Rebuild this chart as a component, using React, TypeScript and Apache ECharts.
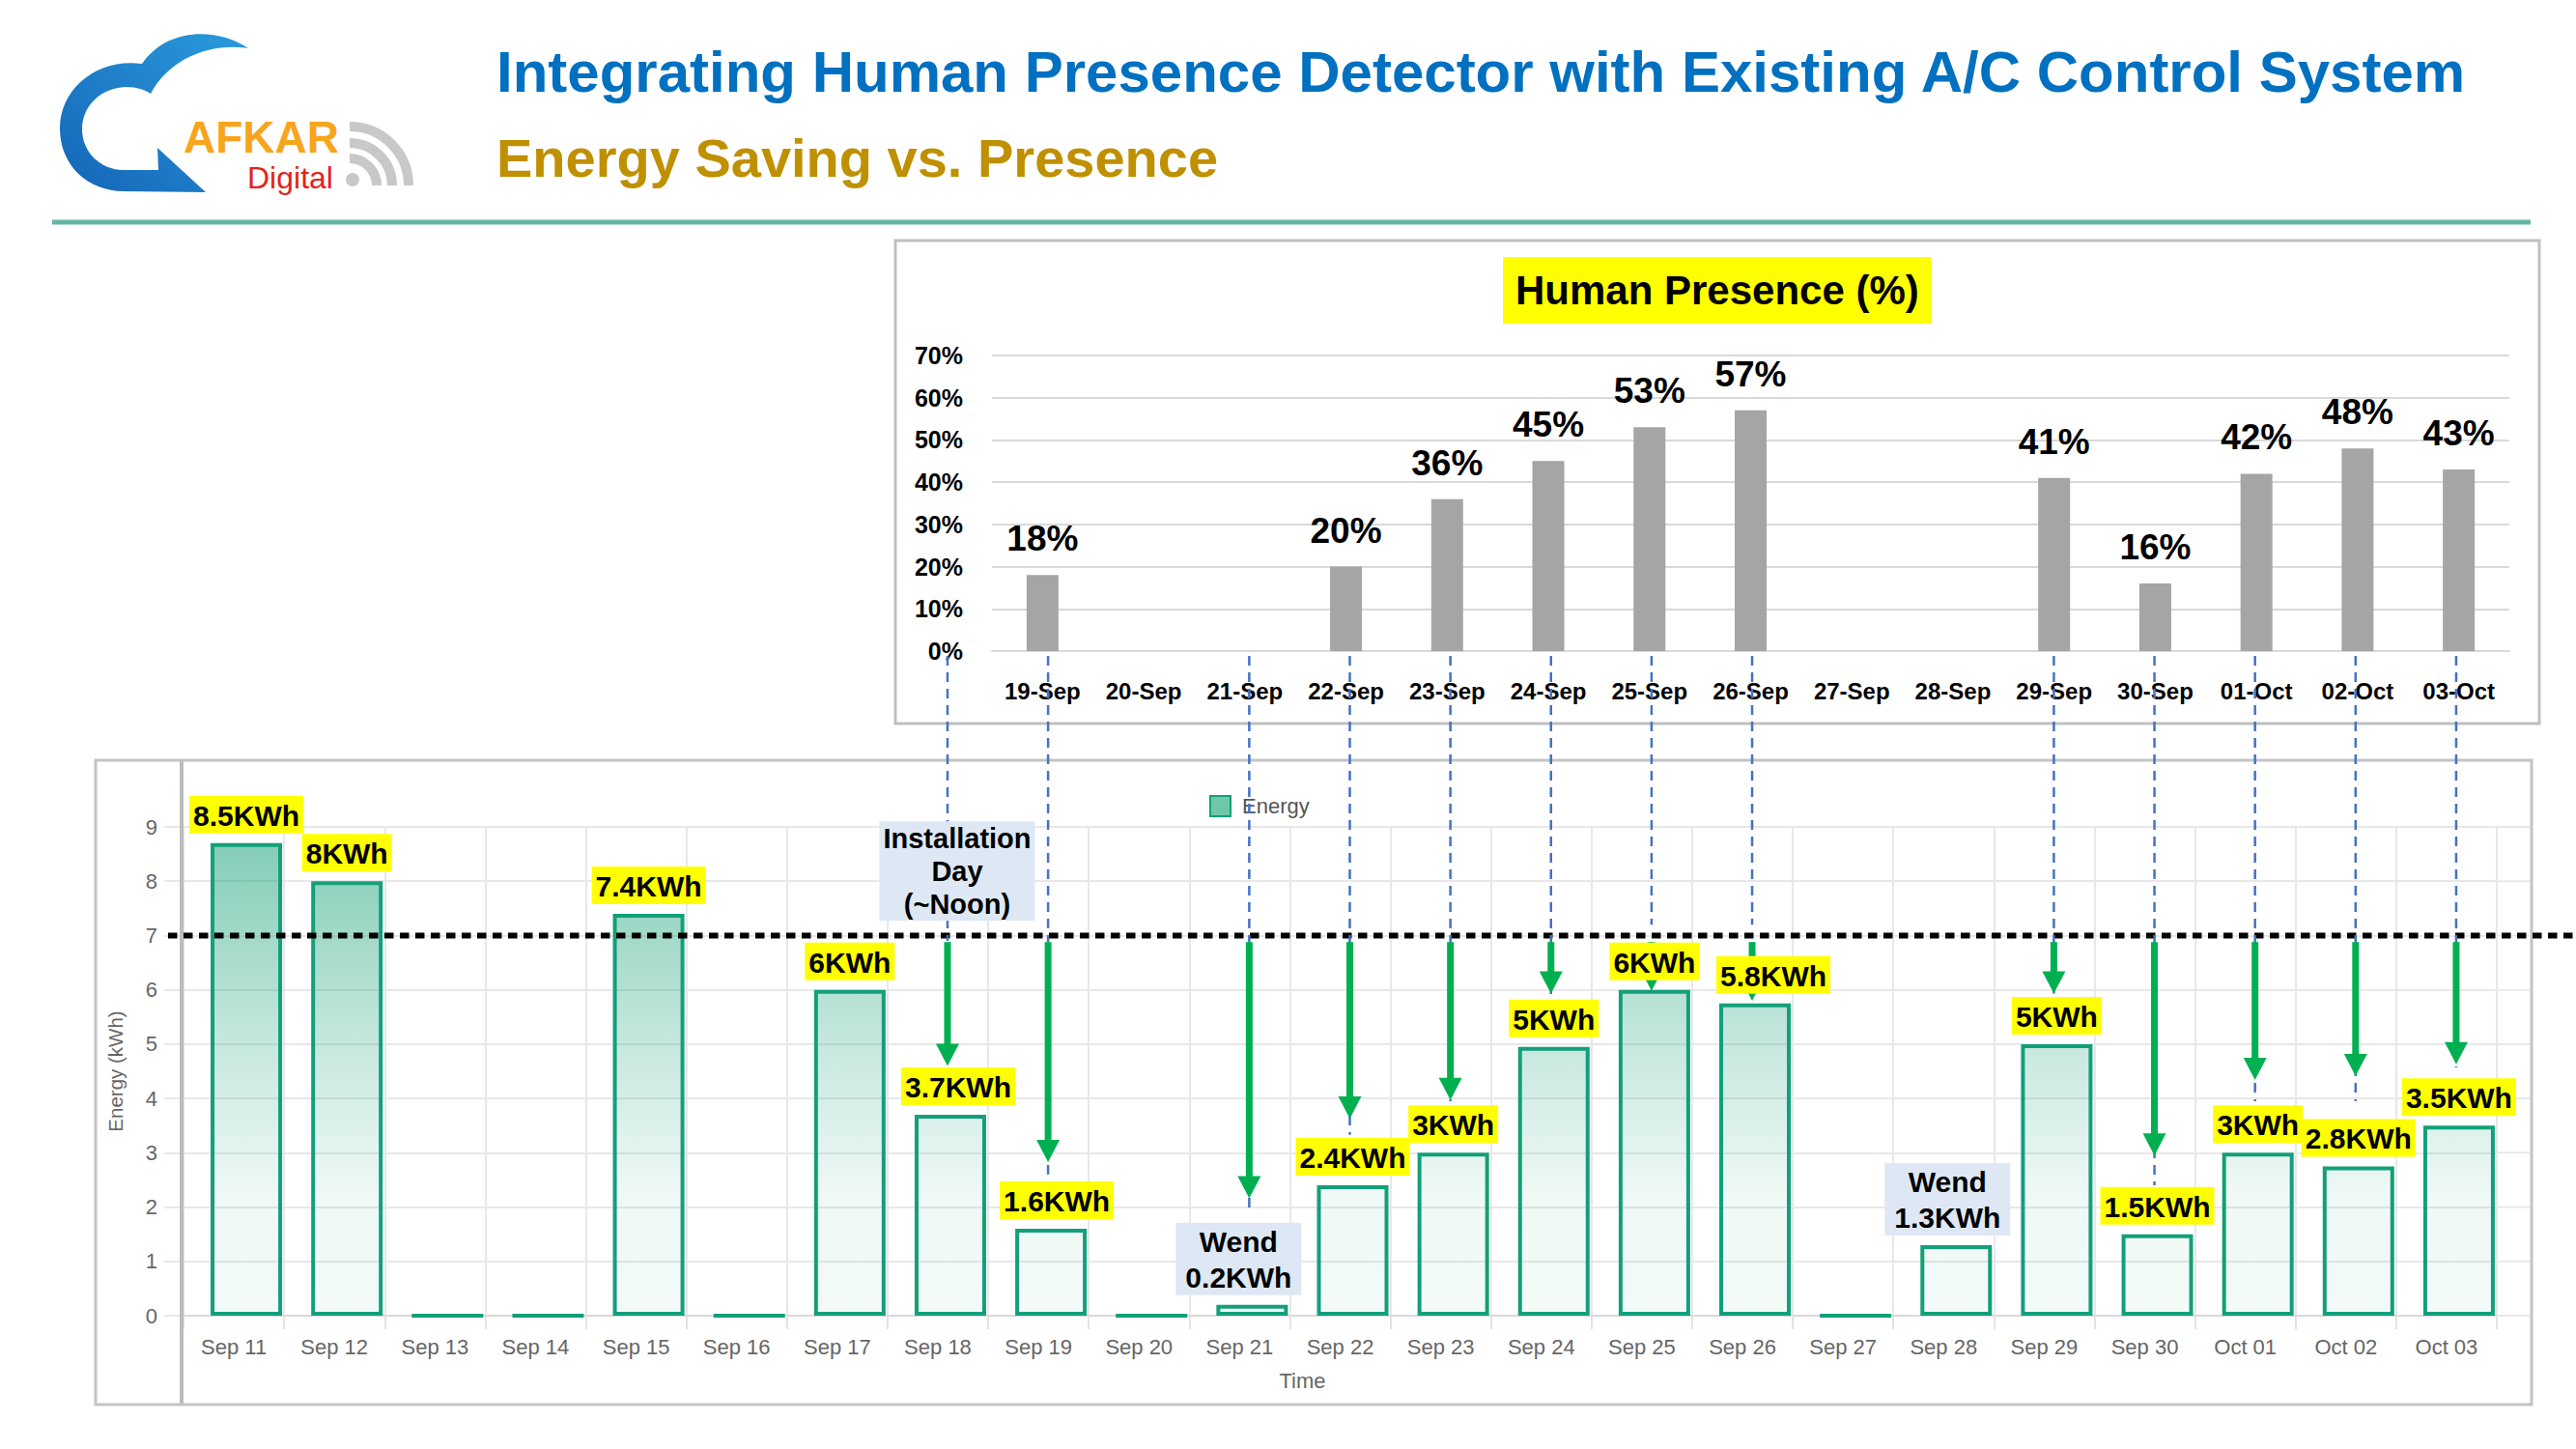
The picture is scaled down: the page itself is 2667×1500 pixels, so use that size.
import React, { useEffect, useRef } from "react";
import * as echarts from "echarts";

const FONT = "'Liberation Sans', Arial, sans-serif";

// ---------- data ----------
const presenceDates = ["19-Sep", "20-Sep", "21-Sep", "22-Sep", "23-Sep", "24-Sep", "25-Sep", "26-Sep", "27-Sep", "28-Sep", "29-Sep", "30-Sep", "01-Oct", "02-Oct", "03-Oct"];
const presenceValues = [18, null, null, 20, 36, 45, 53, 57, null, null, 41, 16, 42, 48, 43];

const energyDates = ["Sep 11", "Sep 12", "Sep 13", "Sep 14", "Sep 15", "Sep 16", "Sep 17", "Sep 18", "Sep 19", "Sep 20", "Sep 21", "Sep 22", "Sep 23", "Sep 24", "Sep 25", "Sep 26", "Sep 27", "Sep 28", "Sep 29", "Sep 30", "Oct 01", "Oct 02", "Oct 03"];
const energyValues = [8.7, 8.0, 0, 0, 7.4, 0, 6.0, 3.7, 1.6, 0, 0.2, 2.4, 3.0, 4.95, 6.0, 5.75, 0, 1.3, 5.0, 1.5, 3.0, 2.75, 3.5];
const energyLabels = ["8.5KWh", "8KWh", "", "", "7.4KWh", "", "6KWh", "3.7KWh", "1.6KWh", "", "Wend\n0.2KWh", "2.4KWh", "3KWh", "5KWh", "6KWh", "5.8KWh", "", "Wend\n1.3KWh", "5KWh", "1.5KWh", "3KWh", "2.8KWh", "3.5KWh"];
const weekendDays = ["Sep 21", "Sep 28"];

const baselineKWh = 7;
const connectorDays = ["Sep 18", "Sep 19", "Sep 21", "Sep 22", "Sep 23", "Sep 24", "Sep 25", "Sep 26", "Sep 29", "Sep 30", "Oct 01", "Oct 02", "Oct 03"];
const arrowStartKWh = 6.88;
const arrowTipKWh = [4.6, 2.83, 2.16, 3.63, 3.97, 5.93, 5.98, 5.8, 5.93, 2.95, 4.34, 4.41, 4.63];
const dashEndKWh = [6.9, 2.6, 1.95, 3.33, 3.95, 5.9, 7.2, 7.2, 5.93, 2.4, 3.95, 3.95, 4.57];

const titleText = "Integrating Human Presence Detector with Existing A/C Control System";
const subtitleText = "Energy Saving vs. Presence";
const presenceTitle = "Human Presence (%)";
const installText = "Installation\nDay\n(~Noon)";
const installDay = "Sep 18";
const installBottomKWh = 7.27;

// ---------- layout / style ----------
const TOP_GRID = { left: 1027, top: 368, width: 1571, height: 306 };
const BOT_GRID = { left: 190, top: 856, width: 2395, height: 506 };
const BAR_SHIFT = 13;
const LABEL_SHIFT: Record<string, number> = { "Sep 18": 8, "Sep 19": 6, "Sep 21": -14, "Sep 26": 19, "Sep 28": -9 };

const LOGO_D =
  "M 257 50 C 228 30 175 26 147 66 C 100 60 62 92 62 133 C 62 172 92 198 128 198 L 213 199 L 163 153 L 164 176 L 128 176 C 104 176 85 157 85 134 C 85 110 104 91 130 90 C 142 90 150 93 156 97 C 175 62 215 44 257 50 Z";

let logoRegistered = false;
function registerLogo() {
  if (logoRegistered) return;
  echarts.graphic.registerShape("logo", echarts.graphic.extendPath(LOGO_D, {}));
  logoRegistered = true;
}

export default function App() {
  const ref = useRef<HTMLDivElement>(null);

  useEffect(() => {
    if (!ref.current) return;
    registerLogo();
    const chart = echarts.init(ref.current, undefined, { renderer: "svg", width: 2667, height: 1500 });

    const gTop = BOT_GRID.top;
    const gBot = BOT_GRID.top + BOT_GRID.height;
    const energyGradient = new echarts.graphic.LinearGradient(
      0, gTop, 0, gBot,
      [
        { offset: 0, color: "rgba(22,160,120,0.55)" },
        { offset: 0.45, color: "rgba(22,160,120,0.24)" },
        { offset: 0.75, color: "rgba(22,160,120,0.07)" },
        { offset: 1, color: "rgba(22,160,120,0.05)" },
      ],
      true
    );

    const labelData = energyValues.map((v, i) => {
      const text = energyLabels[i];
      const day = energyDates[i];
      const isWeekend = weekendDays.includes(day);
      if (!text) return { value: v, label: { show: false } };
      const shift = LABEL_SHIFT[day] || 0;
      return {
        value: v,
        label: isWeekend
          ? { show: true, formatter: text, backgroundColor: "#DEE8F4", padding: [1, 10, 0, 10], lineHeight: 37, offset: [shift, 0] }
          : { show: true, formatter: text, offset: [shift, 0] },
      };
    });

    const botAxisLabel = { color: "#666", fontSize: 22, fontFamily: FONT };

    const option: any = {
      animation: false,
      backgroundColor: "#ffffff",
      textStyle: { fontFamily: FONT },
      title: [
        {
          text: presenceTitle,
          left: 1556,
          top: 266,
          backgroundColor: "#FFFF00",
          padding: [10, 13, 10, 13],
          textStyle: { fontSize: 42, fontWeight: "bold", color: "#000", fontFamily: FONT, lineHeight: 49 },
        },
      ],
      legend: {
        data: [{ name: "Energy", icon: "rect", itemStyle: { color: "#6FC7A9", borderColor: "#13A078", borderWidth: 2 } }],
        left: 1247,
        top: 818,
        itemWidth: 21,
        itemHeight: 21,
        selectedMode: false,
        textStyle: { color: "#555", fontSize: 22, fontFamily: FONT, padding: [0, 0, 0, 7] },
      },
      grid: [
        { ...TOP_GRID },
        { ...BOT_GRID },
        { ...BOT_GRID, left: BOT_GRID.left + BAR_SHIFT },
      ],
      xAxis: [
        {
          type: "category",
          gridIndex: 0,
          data: presenceDates,
          axisLine: { lineStyle: { color: "#D9D9D9", width: 2 } },
          axisTick: { show: false },
          axisLabel: { interval: 0, fontSize: 24, fontWeight: "bold", color: "#000", margin: 29, fontFamily: FONT },
        },
        {
          type: "category",
          gridIndex: 1,
          data: energyDates,
          boundaryGap: true,
          axisLine: { lineStyle: { color: "#D9D9D9", width: 2 } },
          axisTick: { show: true, interval: 0, length: 14, lineStyle: { color: "#E3E3E3", width: 2 } },
          axisLabel: { ...botAxisLabel, interval: 0, margin: 21 },
          splitLine: { show: true, interval: 0, lineStyle: { color: "#E8E8E8", width: 2 } },
          name: "Time",
          nameLocation: "middle",
          nameGap: 56,
          nameTextStyle: { color: "#666", fontSize: 22, fontFamily: FONT, padding: [0, 78, 0, 0] },
        },
        { type: "category", gridIndex: 2, data: energyDates, show: false },
      ],
      yAxis: [
        {
          type: "value",
          gridIndex: 0,
          min: 0,
          max: 70,
          interval: 10,
          axisLine: { show: false },
          axisTick: { show: false },
          axisLabel: { formatter: "{value}%", fontSize: 25, fontWeight: "bold", color: "#000", margin: 30, fontFamily: FONT },
          splitLine: { lineStyle: { color: "#D9D9D9", width: 2 } },
        },
        {
          type: "value",
          gridIndex: 1,
          min: 0,
          max: 9,
          interval: 1,
          axisLine: { show: true, lineStyle: { color: "#E3E3E3", width: 2 } },
          axisTick: { show: true, length: 20, lineStyle: { color: "#E8E8E8", width: 2 } },
          axisLabel: { ...botAxisLabel, margin: 27 },
          splitLine: { lineStyle: { color: "#E8E8E8", width: 2 } },
          name: "Energy (kWh)",
          nameLocation: "middle",
          nameGap: 60,
          nameRotate: 90,
          nameTextStyle: { color: "#666", fontSize: 20.5, fontFamily: FONT },
        },
        { type: "value", gridIndex: 2, min: 0, max: 9, interval: 1, show: false },
      ],
      series: [
        {
          type: "bar",
          name: "Presence",
          xAxisIndex: 0,
          yAxisIndex: 0,
          data: presenceValues,
          barWidth: 33,
          itemStyle: { color: "#A5A5A5" },
          label: { show: true, position: "top", distance: 19, formatter: "{c}%", fontSize: 37, fontWeight: "bold", color: "#000", fontFamily: FONT },
        },
        {
          type: "bar",
          name: "Energy",
          xAxisIndex: 2,
          yAxisIndex: 2,
          data: energyValues,
          barWidth: 74,
          barGap: "-100%",
          z: 2,
          itemStyle: { color: energyGradient, borderColor: "#12A079", borderWidth: 4 },
        },
        {
          type: "bar",
          name: "EnergyLabels",
          xAxisIndex: 2,
          yAxisIndex: 2,
          data: labelData,
          barWidth: 74,
          barGap: "-100%",
          z: 20,
          silent: true,
          itemStyle: { color: "rgba(0,0,0,0)", borderWidth: 0 },
          label: {
            show: true,
            position: "top",
            distance: 10,
            fontSize: 30,
            fontWeight: "bold",
            color: "#000",
            fontFamily: FONT,
            backgroundColor: "#FFFF00",
            padding: [4, 4, 2, 4],
            lineHeight: 33,
          },
        },
      ],
    };

    chart.setOption(option);

    const toPx = (day: string, v: number) =>
      chart.convertToPixel({ gridIndex: 2 } as any, [energyDates.indexOf(day), v]) as number[];
    const yOf = (v: number) => toPx(energyDates[0], v)[1];

    const els: any[] = [];

    // header divider
    els.push({ type: "line", z: 1, shape: { x1: 54, y1: 230, x2: 2620, y2: 230 }, style: { stroke: "#63B6A6", lineWidth: 5 } });

    // logo
    els.push({
      type: "logo",
      x: 0,
      y: 0,
      scaleX: 1,
      scaleY: 1,
      z: 1,
      style: {
        fill: new echarts.graphic.LinearGradient(0, 1, 1, 0, [
          { offset: 0, color: "#1565B8" },
          { offset: 1, color: "#2A9BDC" },
        ]),
      },
    });
    els.push({ type: "text", z: 1, x: 190, y: 142, style: { text: "AFKAR", fill: "#F7A51C", fontSize: 46, fontWeight: "bold", fontFamily: FONT, align: "left", verticalAlign: "middle" } });
    els.push({ type: "text", z: 1, x: 256, y: 184, style: { text: "Digital", fill: "#E2231A", fontSize: 32, fontFamily: FONT, align: "left", verticalAlign: "middle" } });
    [28, 44, 61].forEach((r) => {
      els.push({ type: "arc", z: 1, shape: { cx: 362, cy: 192, r, startAngle: -Math.PI / 2, endAngle: 0, clockwise: true }, style: { stroke: "#C8C8C8", lineWidth: 10, fill: "none" } });
    });
    els.push({ type: "circle", z: 1, shape: { cx: 365, cy: 186, r: 7 }, style: { fill: "#C8C8C8" } });

    // titles
    els.push({ type: "text", z: 1, x: 514, y: 74, style: { text: titleText, fill: "#0070C0", fontSize: 60, fontWeight: "bold", fontFamily: FONT, align: "left", verticalAlign: "middle" } });
    els.push({ type: "text", z: 1, x: 514, y: 163, style: { text: subtitleText, fill: "#BF9000", fontSize: 56, fontWeight: "bold", fontFamily: FONT, align: "left", verticalAlign: "middle" } });

    // panel frames
    els.push({ type: "rect", z: 1, shape: { x: 927, y: 249, width: 1702, height: 500 }, style: { fill: "none", stroke: "#BFBFBF", lineWidth: 3 } });
    els.push({ type: "rect", z: 1, shape: { x: 99, y: 787, width: 2522, height: 667 }, style: { fill: "none", stroke: "#C4C4C4", lineWidth: 3 } });
    els.push({ type: "line", z: 3, shape: { x1: 188, y1: 787, x2: 188, y2: 1454 }, style: { stroke: "#BDBDBD", lineWidth: 4 } });

    // grid line extension to right frame
    const gridRight = BOT_GRID.left + BOT_GRID.width;
    for (let v = 0; v <= 9; v++) {
      const y = yOf(v);
      els.push({ type: "line", z: 1, shape: { x1: gridRight, y1: y, x2: 2619, y2: y }, style: { stroke: "#E8E8E8", lineWidth: 2 } });
    }

    // baseline (dotted) at 7 kWh
    const yBase = yOf(baselineKWh);
    els.push({ type: "line", z: 5, shape: { x1: 174, y1: yBase, x2: 2667, y2: yBase }, style: { stroke: "#000", lineWidth: 6, lineDash: [9.5, 6.5] } });

    // connectors
    connectorDays.forEach((day, i) => {
      const x = toPx(day, 0)[0] - 3;
      const yDashEnd = toPx(day, dashEndKWh[i])[1];
      els.push({ type: "line", z: 6, shape: { x1: x, y1: 679, x2: x, y2: yDashEnd }, style: { stroke: "#4472C4", lineWidth: 2.5, lineDash: [10, 7] } });
      const y0 = toPx(day, arrowStartKWh)[1];
      const yTip = toPx(day, arrowTipKWh[i])[1];
      els.push({ type: "line", z: 7, shape: { x1: x, y1: y0, x2: x, y2: yTip - 18 }, style: { stroke: "#00B050", lineWidth: 7 } });
      els.push({ type: "polygon", z: 7, shape: { points: [[x - 12, yTip - 23], [x + 12, yTip - 23], [x, yTip]] }, style: { fill: "#00B050" } });
    });

    // installation day note
    const ip = toPx(installDay, installBottomKWh);
    els.push({
      type: "text",
      z: 21,
      x: ip[0] + 7,
      y: ip[1],
      style: {
        text: installText,
        fill: "#000",
        fontSize: 29,
        fontWeight: "bold",
        fontFamily: FONT,
        align: "center",
        verticalAlign: "bottom",
        lineHeight: 34,
        backgroundColor: "#DEE8F4",
        padding: [1, 4, 0, 4],
      },
    });

    chart.setOption({ graphic: { elements: els } });

    return () => {
      chart.dispose();
    };
  }, []);

  return (
    <div
      ref={ref}
      style={{ position: "fixed", left: 0, top: 0, width: 2667, height: 1500, background: "#fff" }}
    />
  );
}
